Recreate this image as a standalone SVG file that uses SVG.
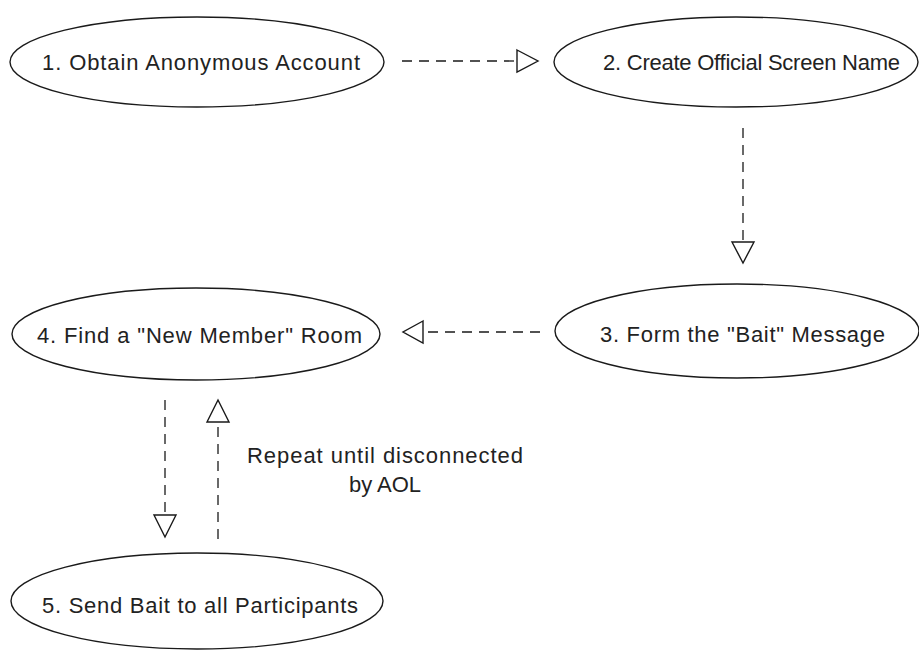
<svg xmlns="http://www.w3.org/2000/svg" width="919" height="652" viewBox="0 0 919 652">
<style>
.node ellipse{fill:#fff;stroke:#1a1a1a;stroke-width:1.4}
.node text,.lbl{font-family:"Liberation Sans",Arial,sans-serif;font-size:22px;fill:#222}
.edge line{stroke:#1a1a1a;stroke-width:1.3;stroke-dasharray:10 7;fill:none}
.edge polygon{fill:#fff;stroke:#1a1a1a;stroke-width:1.4}
</style>
<rect width="919" height="652" fill="#fff"/>
<g id="n1" class="node"><ellipse cx="197" cy="62" rx="187" ry="45"/><text x="42" y="70" textLength="318" lengthAdjust="spacing">1. Obtain Anonymous Account</text></g>
<g id="n2" class="node"><ellipse cx="736" cy="62" rx="182" ry="45"/><text x="603" y="70" textLength="297" lengthAdjust="spacing">2. Create Official Screen Name</text></g>
<g id="n3" class="node"><ellipse cx="737" cy="331" rx="182" ry="47"/><text x="600" y="342" textLength="285" lengthAdjust="spacing">3. Form the "Bait" Message</text></g>
<g id="n4" class="node"><ellipse cx="196" cy="334" rx="184" ry="46"/><text x="37" y="343" textLength="325" lengthAdjust="spacing">4. Find a "New Member" Room</text></g>
<g id="n5" class="node"><ellipse cx="197" cy="601" rx="186" ry="48"/><text x="42" y="613" textLength="316" lengthAdjust="spacing">5. Send Bait to all Participants</text></g>
<g id="edges" class="edge">
<line x1="402" y1="61" x2="517" y2="61"/><polygon points="517,50 538,61 517,72"/>
<line x1="743" y1="128" x2="743" y2="242"/><polygon points="732,242 754,242 743,263"/>
<line x1="540" y1="332" x2="423" y2="332"/><polygon points="423,321 403,332 423,343"/>
<line x1="165" y1="400" x2="165" y2="515"/><polygon points="154,515 176,515 165,537"/>
<line x1="218" y1="539" x2="218" y2="422"/><polygon points="207,422 229,422 218,400"/>
</g>
<text class="lbl" x="385" y="463" text-anchor="middle" textLength="276" lengthAdjust="spacing">Repeat until disconnected</text>
<text class="lbl" x="385" y="492" text-anchor="middle">by AOL</text>
</svg>
